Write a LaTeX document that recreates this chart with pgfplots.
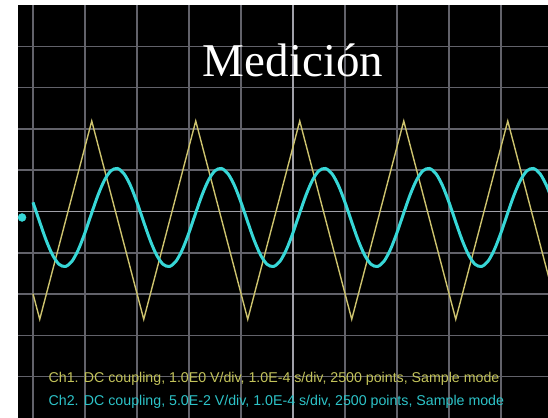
\documentclass[border=0pt]{standalone}
\usepackage{pgfplots}
\pgfplotsset{compat=1.18}
\usepackage{fontspec}
\setmainfont{Liberation Serif}
\newfontfamily\arialfont{Liberation Sans}
\definecolor{gridc}{RGB}{98,98,106}
\definecolor{gridcenter}{RGB}{160,160,168}
\definecolor{trig}{RGB}{205,195,110}
\definecolor{sinc}{RGB}{55,215,215}
\definecolor{txtone}{RGB}{195,195,90}
\definecolor{txttwo}{RGB}{45,195,200}
\begin{document}
\begin{tikzpicture}
\begin{axis}[
  scale only axis, width=530pt, height=413pt,
  xmin=-0.288, xmax=9.904, ymin=-5, ymax=5,
  axis background/.style={fill=black},
  axis line style={draw=none},
  xtick={0,1,2,3,4,6,7,8,9}, ytick={-4,-3,-2,-1,1,2,3,4},
  xticklabels={}, yticklabels={},
  major tick length=0pt,
  grid=major, major grid style={gridc, line width=1.5pt},
  extra x ticks={5}, extra y ticks={0},
  extra x tick labels={}, extra y tick labels={},
  extra tick style={grid=major, major grid style={gridcenter, line width=1.8pt}},
]
% Ch1 triangle
\addplot[trig, line width=1.4pt, sharp plot] coordinates {
(0,-1.99) (0.13,-2.61) (1.13,2.19) (2.13,-2.61) (3.13,2.19) (4.13,-2.61)
(5.13,2.19) (6.13,-2.61) (7.13,2.19) (8.13,-2.61) (9.13,2.19) (10.13,-2.61)
};
% Ch2 sine
\addplot[sinc, line width=3pt, smooth] coordinates {
(0,0.223) (0.125,-0.238) (0.25,-0.685) (0.375,-1.049) (0.5,-1.277) (0.625,-1.331) (0.75,-1.205) (0.875,-0.917)
(1,-0.513) (1.125,-0.052) (1.25,0.395) (1.375,0.759) (1.5,0.987) (1.625,1.041) (1.75,0.915) (1.875,0.627)
(2,0.223) (2.125,-0.238) (2.25,-0.685) (2.375,-1.049) (2.5,-1.277) (2.625,-1.331) (2.75,-1.205) (2.875,-0.917)
(3,-0.513) (3.125,-0.052) (3.25,0.395) (3.375,0.759) (3.5,0.987) (3.625,1.041) (3.75,0.915) (3.875,0.627)
(4,0.223) (4.125,-0.238) (4.25,-0.685) (4.375,-1.049) (4.5,-1.277) (4.625,-1.331) (4.75,-1.205) (4.875,-0.917)
(5,-0.513) (5.125,-0.052) (5.25,0.395) (5.375,0.759) (5.5,0.987) (5.625,1.041) (5.75,0.915) (5.875,0.627)
(6,0.223) (6.125,-0.238) (6.25,-0.685) (6.375,-1.049) (6.5,-1.277) (6.625,-1.331) (6.75,-1.205) (6.875,-0.917)
(7,-0.513) (7.125,-0.052) (7.25,0.395) (7.375,0.759) (7.5,0.987) (7.625,1.041) (7.75,0.915) (7.875,0.627)
(8,0.223) (8.125,-0.238) (8.25,-0.685) (8.375,-1.049) (8.5,-1.277) (8.625,-1.331) (8.75,-1.205) (8.875,-0.917)
(9,-0.513) (9.125,-0.052) (9.25,0.395) (9.375,0.759) (9.5,0.987) (9.625,1.041) (9.75,0.915) (9.875,0.627)
(10,0.223)
};
% Ch2 ground marker
\addplot[only marks, mark=*, mark size=4pt, mark options={fill=sinc, draw=sinc}] coordinates {(-0.21,-0.145)};
\node[anchor=base, text=white, font=\fontsize{47}{50}\selectfont] at (axis cs:5.0,3.27) {Medición};
\node[anchor=base west, inner sep=0pt, text=txtone, font=\arialfont\fontsize{14.2}{16}\selectfont] at (axis cs:0.298,-4.14) {Ch1. DC coupling, 1.0E0 V/div, 1.0E-4 s/div, 2500 points, Sample mode};
\node[anchor=base west, inner sep=0pt, text=txttwo, font=\arialfont\fontsize{14.2}{16}\selectfont] at (axis cs:0.298,-4.70) {Ch2. DC coupling, 5.0E-2 V/div, 1.0E-4 s/div, 2500 points, Sample mode};
\end{axis}
\pgfresetboundingbox
\path[use as bounding box] ([xshift=-18pt]current axis.south west) rectangle ([yshift=5pt]current axis.north east);
\end{tikzpicture}
\end{document}
